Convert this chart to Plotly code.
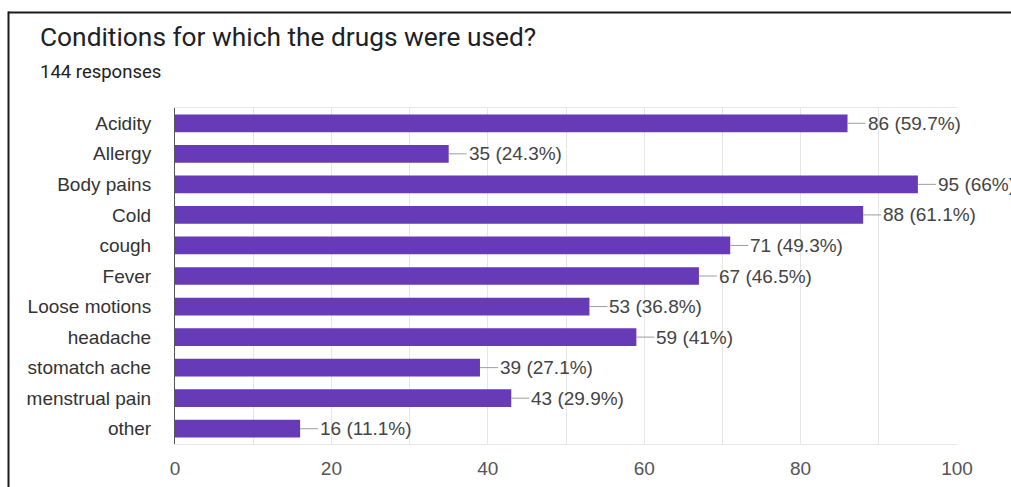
import plotly.graph_objects as go

# Survey question and response counts
title_text = "Conditions for which the drugs were used?"
subtitle_text = "144 responses"
conditions = ["Acidity", "Allergy", "Body pains", "Cold", "cough", "Fever",
              "Loose motions", "headache", "stomatch ache", "menstrual pain", "other"]
counts = [86, 35, 95, 88, 71, 67, 53, 59, 39, 43, 16]
percents = ["59.7%", "24.3%", "66%", "61.1%", "49.3%", "46.5%",
            "36.8%", "41%", "27.1%", "29.9%", "11.1%"]
x_ticks = [0, 20, 40, 60, 80, 100]

W, H = 1011, 487
ML, MR, MT, MB = 175, 54, 108, 43
PW = W - ML - MR
PH = H - MT - MB

BAR = "#673ab7"
TEXT = "#444444"
GRID = "#e6e6e6"
CHART_FONT = "Liberation Sans, Arial, sans-serif"
HEAD_FONT = "Roboto, Arial, sans-serif"


def px_to_paper_x(px):
    return (px - ML) / PW


def px_to_paper_y(py):
    return (H - MB - py) / PH


fig = go.Figure(go.Bar(
    x=counts,
    y=conditions,
    orientation="h",
    marker=dict(color=BAR, line=dict(width=0)),
    hoverinfo="skip",
))

annotations = []
shapes = []
LEAD = 18
for cat, n, pct in zip(conditions, counts, percents):
    # short leader line from the bar end to its label
    shapes.append(dict(
        type="line", xref="x", yref="y", xsizemode="pixel", xanchor=n,
        x0=0, x1=LEAD, y0=cat, y1=cat,
        line=dict(color="#9e9e9e", width=1), layer="above",
    ))
    annotations.append(dict(
        x=n, y=cat, xref="x", yref="y", xanchor="left", yanchor="middle",
        xshift=LEAD, showarrow=False,
        text=f"{n} ({pct})",
        font=dict(family=CHART_FONT, size=19, color=TEXT),
    ))

# title block
annotations.append(dict(
    xref="paper", yref="paper", x=px_to_paper_x(38), y=px_to_paper_y(37),
    xanchor="left", yanchor="middle", showarrow=False, text=title_text,
    font=dict(family=HEAD_FONT, size=26.3, color="#202124"),
))
annotations.append(dict(
    xref="paper", yref="paper", x=px_to_paper_x(38), y=px_to_paper_y(72),
    xanchor="left", yanchor="middle", showarrow=False, text=subtitle_text,
    font=dict(family=HEAD_FONT, size=18.5, color="#202124"),
))

# frame around the card (top and left edges)
shapes.append(dict(type="line", xref="paper", yref="paper",
                   x0=px_to_paper_x(8), x1=px_to_paper_x(W + 5),
                   y0=px_to_paper_y(12.5), y1=px_to_paper_y(12.5),
                   line=dict(color="#1a1a1a", width=2), layer="above"))
shapes.append(dict(type="line", xref="paper", yref="paper",
                   x0=px_to_paper_x(8.5), x1=px_to_paper_x(8.5),
                   y0=px_to_paper_y(11.5), y1=px_to_paper_y(H + 5),
                   line=dict(color="#1a1a1a", width=2), layer="above"))

fig.update_layout(
    width=W, height=H,
    margin=dict(l=ML, r=MR, t=MT, b=MB, pad=0),
    paper_bgcolor="white", plot_bgcolor="white",
    bargap=0.42,
    showlegend=False,
    annotations=annotations,
    shapes=shapes,
    xaxis=dict(
        range=[0, 100], tickvals=x_ticks, showgrid=True, gridcolor=GRID,
        minor=dict(dtick=10, tick0=0, showgrid=True, gridcolor=GRID),
        showline=True, mirror=True, linecolor=GRID, linewidth=1,
        zeroline=False, ticks="", ticklabelstandoff=7, automargin=False,
        tickfont=dict(family=CHART_FONT, size=19, color="#555555"),
        fixedrange=True,
    ),
    yaxis=dict(
        autorange="reversed", showgrid=False, zeroline=False,
        showline=True, linecolor="#555555", linewidth=1,
        ticks="", ticklabelstandoff=19, automargin=False,
        tickfont=dict(family=CHART_FONT, size=19, color="#333333"),
        fixedrange=True,
    ),
)

fig.write_html("out.html")
